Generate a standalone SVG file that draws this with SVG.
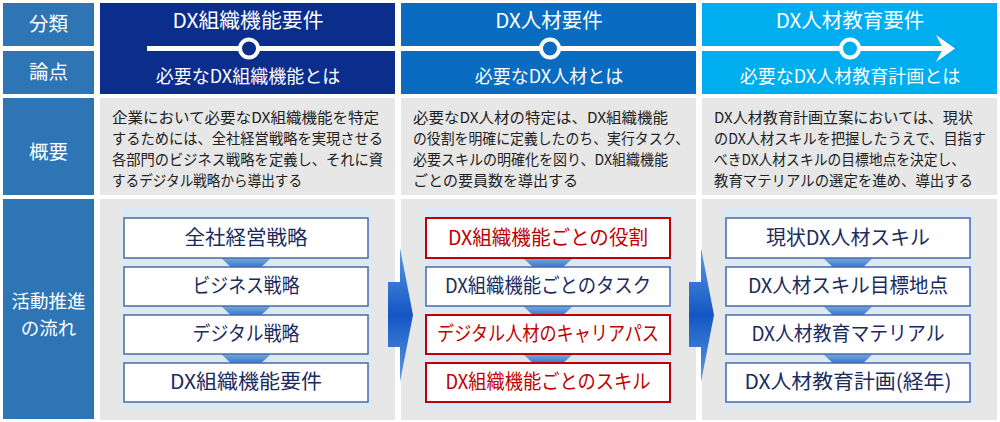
<svg xmlns="http://www.w3.org/2000/svg" width="1000" height="422" viewBox="0 0 1000 422">
<defs>
<style>
text{font-family:"Noto Sans CJK JP","Noto Sans",sans-serif}
.lbl{fill:#2e75b6}
.lt{fill:#fff;font-size:19.5px;text-anchor:middle}
.lt2{fill:#fff;font-size:18.5px;text-anchor:middle}
.ht{fill:#fff;font-size:20.5px;text-anchor:middle}
.hs{fill:#fff;font-size:18px;text-anchor:middle}
.body{fill:#e7e7e7}
.bt{fill:#222;font-size:15px}
.back{fill:#dde8f5}
.bx{fill:#fff;stroke:#4a6aa5;stroke-width:1.5}
.bxr{fill:#fff;stroke:#c00000;stroke-width:2}
.tx{fill:#1b2b5e;font-size:20px;text-anchor:middle}
.txr{fill:#c00000;font-size:20px;text-anchor:middle}
.sa{fill:url(#gs)}
.ba{fill:url(#gb)}
</style>
<linearGradient id="gs" x1="0" y1="0" x2="0" y2="1"><stop offset="0" stop-color="#7aaee0"/><stop offset="1" stop-color="#1f5cc0"/></linearGradient>
<linearGradient id="gb" x1="0" y1="0" x2="0" y2="1"><stop offset="0" stop-color="#5a9ae0"/><stop offset="0.5" stop-color="#1456c4"/><stop offset="1" stop-color="#5a9ae0"/></linearGradient>
</defs>
<rect width="1000" height="422" fill="#fff"/>

<g id="labels">
<rect class="lbl" x="3" y="3" width="91" height="43"/>
<text class="lt" x="48.5" y="31">分類</text>
<rect class="lbl" x="3" y="51" width="91" height="43"/>
<text class="lt" x="48.5" y="79">論点</text>
<rect class="lbl" x="3" y="98" width="91" height="97"/>
<text class="lt" x="48.5" y="159">概要</text>
<rect class="lbl" x="3" y="199" width="91" height="220"/>
<text class="lt2" x="48.5" y="308">活動推進</text>
<text class="lt2" x="48.5" y="335">の流れ</text>
</g>

<g id="headers">
<rect x="100" y="3" width="295" height="91" fill="#0b2d8c"/>
<rect x="401" y="3" width="295" height="91" fill="#0a6cc0"/>
<rect x="702" y="3" width="295" height="91" fill="#00aeef"/>
<text class="ht" x="248" y="28" textLength="151" lengthAdjust="spacingAndGlyphs">DX組織機能要件</text>
<text class="ht" x="549" y="28">DX人材要件</text>
<text class="ht" x="850" y="28">DX人材教育要件</text>
<text class="hs" x="248" y="83">必要なDX組織機能とは</text>
<text class="hs" x="549" y="83">必要なDX人材とは</text>
<text class="hs" x="850" y="83">必要なDX人材教育計画とは</text>
</g>

<g id="timeline">
<line x1="147" y1="48.5" x2="945" y2="48.5" stroke="#fff" stroke-width="5"/>
<polygon points="936,35 955,48.5 936,62 943,48.5" fill="#fff"/>
<circle cx="249" cy="48.5" r="9" fill="#0b2d8c" stroke="#fff" stroke-width="4"/>
<circle cx="550" cy="48.5" r="9" fill="#0a6cc0" stroke="#fff" stroke-width="4"/>
<circle cx="850" cy="48.5" r="9" fill="#00aeef" stroke="#fff" stroke-width="4"/>
</g>

<g id="overview">
<rect class="body" x="100" y="98" width="295" height="97"/>
<rect class="body" x="401" y="98" width="295" height="97"/>
<rect class="body" x="702" y="98" width="295" height="97"/>
<text class="bt" x="112" y="123" textLength="267" lengthAdjust="spacingAndGlyphs">企業において必要なDX組織機能を特定</text>
<text class="bt" x="112" y="144" textLength="271" lengthAdjust="spacingAndGlyphs">するためには、全社経営戦略を実現させる</text>
<text class="bt" x="112" y="165" textLength="271" lengthAdjust="spacingAndGlyphs">各部門のビジネス戦略を定義し、それに資</text>
<text class="bt" x="112" y="186" textLength="190" lengthAdjust="spacingAndGlyphs">するデジタル戦略から導出する</text>
<text class="bt" x="413" y="123" textLength="255" lengthAdjust="spacingAndGlyphs">必要なDX人材の特定は、DX組織機能</text>
<text class="bt" x="413" y="144" textLength="276" lengthAdjust="spacingAndGlyphs">の役割を明確に定義したのち、実行タスク、</text>
<text class="bt" x="413" y="165" textLength="255" lengthAdjust="spacingAndGlyphs">必要スキルの明確化を図り、DX組織機能</text>
<text class="bt" x="413" y="186" textLength="165" lengthAdjust="spacingAndGlyphs">ごとの要員数を導出する</text>
<text class="bt" x="714" y="123" textLength="259" lengthAdjust="spacingAndGlyphs">DX人材教育計画立案においては、現状</text>
<text class="bt" x="714" y="144" textLength="272" lengthAdjust="spacingAndGlyphs">のDX人材スキルを把握したうえで、目指す</text>
<text class="bt" x="714" y="165" textLength="251" lengthAdjust="spacingAndGlyphs">べきDX人材スキルの目標地点を決定し、</text>
<text class="bt" x="714" y="186" textLength="259" lengthAdjust="spacingAndGlyphs">教育マテリアルの選定を進め、導出する</text>
</g>

<g id="flow-panels">
<rect class="body" x="100" y="199" width="295" height="221"/>
<rect class="body" x="401" y="199" width="295" height="221"/>
<rect class="body" x="702" y="199" width="295" height="221"/>
<rect class="back" x="122" y="208" width="250" height="201"/>
<rect class="back" x="423" y="208" width="250" height="201"/>
<rect class="back" x="723" y="208" width="250" height="201"/>
</g>

<g id="connectors">
<polygon class="sa" points="220,257 272,257 256,272 236,272"/>
<polygon class="sa" points="220,305 272,305 256,320 236,320"/>
<polygon class="sa" points="220,353 272,353 256,368 236,368"/>
<polygon class="sa" points="522,257 574,257 558,272 538,272"/>
<polygon class="sa" points="522,305 574,305 558,320 538,320"/>
<polygon class="sa" points="522,353 574,353 558,368 538,368"/>
<polygon class="sa" points="822,257 874,257 858,272 838,272"/>
<polygon class="sa" points="822,305 874,305 858,320 838,320"/>
<polygon class="sa" points="822,353 874,353 858,368 838,368"/>
<path class="ba" d="M388,282 H400 V248 L413,315 L400,382 V347 H388 Z"/>
<path class="ba" d="M689,282 H701 V248 L714,315 L701,382 V347 H689 Z"/>
</g>

<g id="col1-boxes">
<g id="n-zensha"><rect class="bx" x="124" y="218" width="244" height="40"/><text class="tx" x="246" y="245" textLength="123" lengthAdjust="spacingAndGlyphs">全社経営戦略</text></g>
<g id="n-business"><rect class="bx" x="124" y="267" width="244" height="39"/><text class="tx" x="246" y="293" textLength="107" lengthAdjust="spacingAndGlyphs">ビジネス戦略</text></g>
<g id="n-digital"><rect class="bx" x="124" y="315" width="244" height="39"/><text class="tx" x="246" y="341" textLength="107" lengthAdjust="spacingAndGlyphs">デジタル戦略</text></g>
<g id="n-dxorg"><rect class="bx" x="124" y="363" width="244" height="39"/><text class="tx" x="246" y="389" textLength="152" lengthAdjust="spacingAndGlyphs">DX組織機能要件</text></g>
</g>

<g id="col2-boxes">
<g id="n-role"><rect class="bxr" x="426" y="218" width="244" height="40"/><text class="txr" x="548" y="245" textLength="200" lengthAdjust="spacingAndGlyphs">DX組織機能ごとの役割</text></g>
<g id="n-task"><rect class="bx" x="426" y="267" width="244" height="39"/><text class="tx" x="548" y="293" textLength="206" lengthAdjust="spacingAndGlyphs">DX組織機能ごとのタスク</text></g>
<g id="n-career"><rect class="bxr" x="426" y="315" width="244" height="39"/><text class="txr" x="548" y="341" textLength="222" lengthAdjust="spacingAndGlyphs">デジタル人材のキャリアパス</text></g>
<g id="n-skill"><rect class="bxr" x="426" y="363" width="244" height="39"/><text class="txr" x="548" y="389" textLength="205" lengthAdjust="spacingAndGlyphs">DX組織機能ごとのスキル</text></g>
</g>

<g id="col3-boxes">
<g id="n-current"><rect class="bx" x="726" y="218" width="244" height="40"/><text class="tx" x="848" y="245" textLength="164" lengthAdjust="spacingAndGlyphs">現状DX人材スキル</text></g>
<g id="n-target"><rect class="bx" x="726" y="267" width="244" height="39"/><text class="tx" x="848" y="293" textLength="200" lengthAdjust="spacingAndGlyphs">DX人材スキル目標地点</text></g>
<g id="n-material"><rect class="bx" x="726" y="315" width="244" height="39"/><text class="tx" x="848" y="341" textLength="193" lengthAdjust="spacingAndGlyphs">DX人材教育マテリアル</text></g>
<g id="n-plan"><rect class="bx" x="726" y="363" width="244" height="39"/><text class="tx" x="848" y="389" textLength="207" lengthAdjust="spacingAndGlyphs">DX人材教育計画(経年)</text></g>
</g>
</svg>
